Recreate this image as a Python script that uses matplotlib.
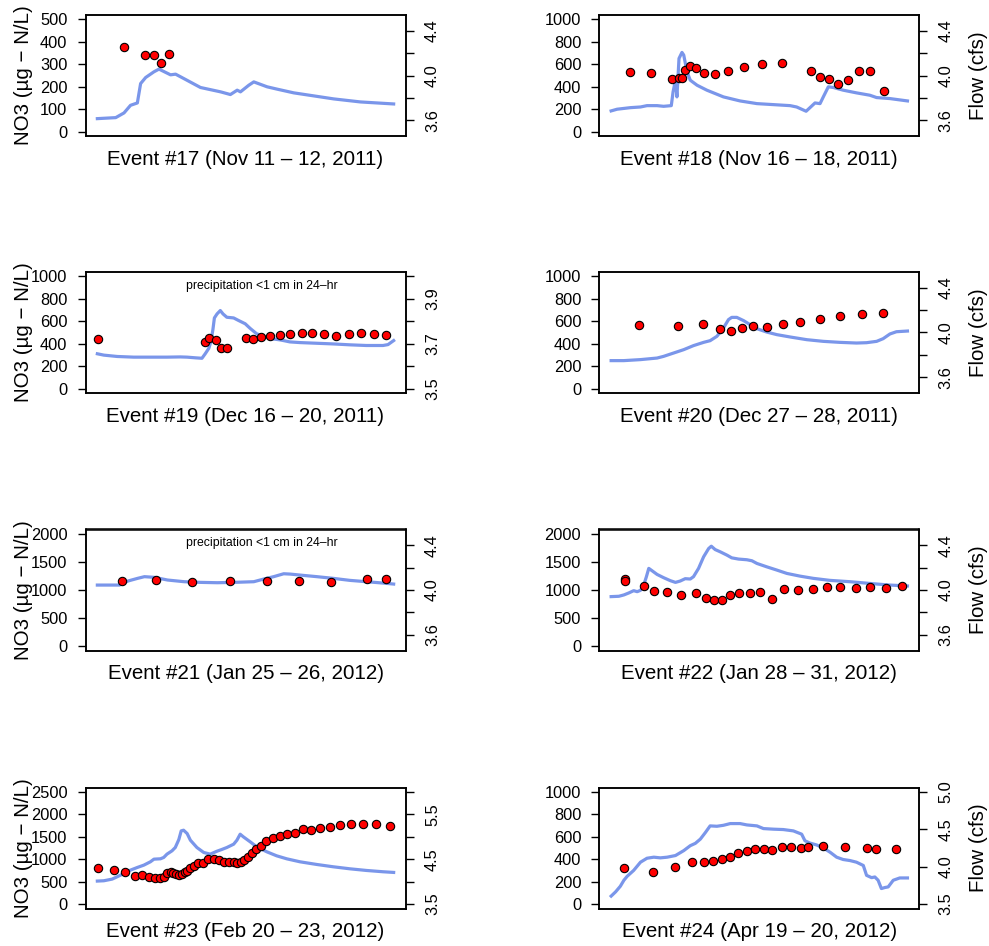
import matplotlib
matplotlib.use('Agg')
import matplotlib.pyplot as plt
import numpy as np

plt.rcParams['font.family'] = ['Liberation Sans', 'DejaVu Sans']

# time axis: percent of event duration (no ticks drawn in the original)
# flow is log10(cfs) on the right axis, NO3 in ug-N/L on the left axis

# Event 17
t17 = [0, 6.2, 9.0, 11.2, 13.5, 14.6, 16.3, 19.1, 20.8, 24.7, 26.4, 29.8, 34.8,
       41.6, 44.9, 47.2, 48.3, 51.1, 52.8, 57.3, 60.7, 66.3, 79.8, 88.8, 100]
flow17 = [3.615, 3.624, 3.666, 3.734, 3.755, 3.928, 3.982, 4.033, 4.057, 4.006, 4.012,
          3.964, 3.893, 3.854, 3.830, 3.869, 3.854, 3.913, 3.943, 3.899, 3.878, 3.845,
          3.791, 3.764, 3.746]
s17 = [9.0, 16.0, 19.0, 21.6, 24.3]
no3_17 = [377, 340, 340, 306, 348]

# Event 18
t18 = [0, 2.0, 6.5, 9.9, 12.1, 15.5, 17.7, 20.3, 20.9, 21.7, 22.2, 22.9, 23.9, 24.5,
       25.6, 26.7, 29.0, 32.3, 37.9, 43.5, 49.2, 54.8, 60.4, 62.6, 65.8, 67.1, 68.8,
       70.5, 71.6, 73.3, 75.0, 78.3, 82.8, 87.3, 89.6, 94.1, 100]
flow18 = [3.684, 3.699, 3.713, 3.719, 3.731, 3.731, 3.725, 3.731, 3.854, 3.958, 3.809,
          4.152, 4.206, 4.182, 4.033, 3.958, 3.913, 3.869, 3.809, 3.773, 3.749, 3.740,
          3.731, 3.719, 3.681, 3.713, 3.755, 3.749, 3.809, 3.899, 3.893, 3.869, 3.845,
          3.824, 3.803, 3.794, 3.773]
s18 = [6.2, 13.4, 20.5, 22.9, 24.0, 25.0, 26.5, 28.8, 31.5, 34.9, 39.4, 44.8, 50.8,
       57.8, 67.5, 70.4, 73.6, 76.7, 79.9, 83.5, 87.5, 92.1]
no3_18 = [534, 522, 469, 475, 481, 552, 588, 564, 522, 510, 540, 579, 605, 608, 543,
          484, 469, 421, 457, 540, 540, 365]

# Event 19
t19 = [0, 2.2, 6.7, 12.3, 17.9, 23.5, 28.0, 30.3, 33.1, 35.3, 36.4, 37.6, 38.3, 39.0,
       39.5, 40.4, 41.5, 42.4, 43.7, 46.0, 47.6, 49.9, 51.6, 53.8, 56.1, 58.3, 61.7,
       65.0, 68.4, 74.0, 79.6, 85.2, 90.8, 96.4, 98.1, 100]
flow19 = [3.655, 3.649, 3.643, 3.640, 3.640, 3.640, 3.641, 3.640, 3.637, 3.635, 3.655,
          3.679, 3.708, 3.763, 3.815, 3.833, 3.848, 3.833, 3.818, 3.815, 3.804, 3.789,
          3.768, 3.744, 3.734, 3.723, 3.717, 3.708, 3.705, 3.702, 3.699, 3.695, 3.692,
          3.692, 3.696, 3.714]
s19 = [0.2, 36.4, 37.7, 40.1, 41.8, 43.8, 50.1, 52.5, 55.2, 58.3, 61.5, 65.1, 68.9,
       72.6, 76.6, 80.7, 84.8, 88.9, 93.3, 97.5]
no3_19 = [446, 417, 455, 432, 360, 360, 449, 440, 458, 473, 482, 488, 494, 494, 485,
          467, 485, 494, 488, 482]

# Event 20
t20 = [0, 4.3, 9.9, 15.5, 17.7, 21.1, 24.5, 27.8, 31.2, 33.4, 35.7, 37.9, 39.6, 40.7,
       42.4, 44.7, 46.9, 49.2, 52.5, 55.9, 60.4, 66.0, 71.6, 77.2, 82.8, 86.2, 89.6,
       91.8, 94.1, 96.3, 100]
flow20 = [3.749, 3.749, 3.758, 3.772, 3.787, 3.817, 3.847, 3.883, 3.912, 3.927, 3.966,
          4.040, 4.115, 4.135, 4.135, 4.106, 4.070, 4.034, 4.004, 3.981, 3.960, 3.936,
          3.921, 3.912, 3.906, 3.909, 3.921, 3.945, 3.987, 4.007, 4.013]
s20 = [9.3, 22.6, 30.9, 36.8, 40.6, 44.1, 47.9, 52.5, 57.9, 63.9, 70.5, 77.3, 84.8, 91.9]
no3_20 = [569, 554, 575, 533, 515, 539, 554, 551, 575, 596, 620, 647, 668, 677]

# Event 21
t21 = [0, 4.7, 7.5, 10.3, 13.6, 15.9, 19.2, 23.7, 29.3, 34.9, 40.5, 46.1, 52.8, 56.2,
       59.5, 62.9, 65.1, 68.5, 74.1, 79.6, 85.2, 90.8, 96.4, 100]
flow21 = [4.044, 4.044, 4.044, 4.080, 4.104, 4.119, 4.113, 4.089, 4.074, 4.068, 4.065,
          4.068, 4.074, 4.098, 4.119, 4.145, 4.142, 4.133, 4.119, 4.104, 4.086, 4.074,
          4.062, 4.053]
s21 = [8.2, 19.8, 32.0, 44.7, 57.3, 67.9, 78.9, 90.9, 97.3]
no3_21 = [1169, 1187, 1151, 1163, 1157, 1157, 1151, 1205, 1205]

# Event 22
t22 = [0, 2.6, 4.3, 5.9, 7.6, 8.8, 9.9, 11.0, 11.9, 12.7, 13.8, 15.5, 17.7, 20.0,
       21.7, 23.3, 25.0, 26.7, 27.8, 29.5, 31.2, 32.9, 33.8, 35.1, 36.8, 39.1, 40.7,
       43.0, 45.8, 47.5, 49.2, 52.5, 55.9, 59.3, 63.7, 68.2, 73.8, 80.6, 88.4, 94.1, 100]
flow22 = [3.941, 3.944, 3.956, 3.973, 3.994, 3.985, 3.997, 4.044, 4.119, 4.193,
          4.172, 4.139, 4.110, 4.083, 4.068, 4.080, 4.101, 4.098, 4.119, 4.193,
          4.296, 4.370, 4.391, 4.361, 4.341, 4.311, 4.287, 4.276, 4.270, 4.261,
          4.237, 4.207, 4.178, 4.148, 4.124, 4.104, 4.086, 4.074, 4.056, 4.044, 4.036]
s22 = [4.7, 4.7, 11.0, 14.6, 18.9, 23.7, 28.7, 32.0, 34.6, 37.3, 40.2, 43.3, 46.7,
       50.3, 54.2, 58.4, 63.2, 68.0, 72.7, 77.4, 82.5, 87.5, 92.7, 98.2]
no3_22 = [1205, 1169, 1080, 985, 967, 914, 950, 855, 813, 825, 908, 944, 938, 961,
          843, 1021, 1003, 1021, 1050, 1062, 1033, 1062, 1039, 1080]

# Event 23
t23 = [0, 2.2, 5.0, 6.7, 9.0, 11.2, 13.5, 15.7, 17.9, 19.1, 21.3, 22.4, 23.5, 25.2,
       26.3, 27.5, 28.3, 29.1, 30.3, 31.4, 33.6, 35.9, 38.1, 40.4, 42.0, 43.7, 46.0,
       47.1, 48.2, 49.3, 51.6, 53.8, 57.2, 60.5, 63.9, 68.4, 74.0, 79.6, 85.2, 90.8,
       96.4, 100]
flow23 = [4.012, 4.019, 4.056, 4.108, 4.182, 4.257, 4.316, 4.368, 4.442, 4.501,
          4.509, 4.539, 4.613, 4.687, 4.761, 4.939, 5.132, 5.147, 5.073, 4.924,
          4.761, 4.650, 4.613, 4.679, 4.717, 4.761, 4.835, 4.924, 5.058, 4.998,
          4.887, 4.776, 4.665, 4.576, 4.509, 4.442, 4.383, 4.331, 4.286, 4.249,
          4.220, 4.205]
s23 = [0.2, 5.6, 9.4, 12.6, 15.1, 17.4, 19.3, 21.0, 22.4, 23.5,
       24.7, 25.6, 26.6, 27.7, 28.6, 29.5, 30.3, 31.4, 32.5, 33.9,
       35.5, 37.4, 39.2, 41.1, 42.8, 44.4, 46.0, 47.3, 48.4, 49.6,
       50.8, 52.1, 53.6, 55.2, 57.0, 59.4, 61.8, 64.0, 66.6, 69.4,
       72.2, 75.3, 78.6, 82.0, 85.7, 89.8, 94.2, 98.7]
no3_23 = [794, 757, 705, 631, 638, 593, 579, 571, 608, 682,
          705, 697, 668, 638, 660, 705, 734, 794, 846, 905,
          920, 994, 994, 979, 942, 935, 935, 920, 942, 979,
          1053, 1142, 1217, 1298, 1402, 1476, 1513, 1558, 1588, 1669,
          1654, 1691, 1721, 1773, 1780, 1780, 1780, 1743]

# Event 24
t24 = [0, 1.5, 3.1, 4.3, 5.4, 7.6, 9.9, 12.1, 14.4, 16.6,
       18.9, 21.7, 24.5, 26.7, 28.4, 30.1, 31.8, 33.4, 35.7, 37.9,
       40.2, 43.5, 45.8, 49.2, 51.4, 54.8, 58.1, 61.5, 64.3, 65.4,
       67.1, 69.4, 71.6, 73.9, 76.1, 78.3, 80.6, 82.8, 85.1, 86.2,
       87.9, 89.0, 90.1, 91.2, 92.4, 93.5, 95.2, 97.4, 100]
flow24 = [3.606, 3.663, 3.738, 3.818, 3.871, 3.950, 4.060, 4.113, 4.127, 4.118,
          4.127, 4.149, 4.215, 4.281, 4.312, 4.369, 4.457, 4.546, 4.541, 4.554,
          4.577, 4.577, 4.559, 4.546, 4.510, 4.502, 4.497, 4.479, 4.435, 4.347,
          4.316, 4.290, 4.250, 4.193, 4.127, 4.096, 4.082, 4.060, 4.016, 3.884,
          3.853, 3.862, 3.818, 3.707, 3.721, 3.729, 3.818, 3.849, 3.849]
s24 = [4.2, 14.0, 21.4, 27.2, 31.3, 34.5, 37.3, 40.1, 42.8, 45.7, 48.6, 51.5, 54.4,
       57.6, 60.7, 64.1, 66.6, 71.4, 78.8, 86.4, 89.3, 96.0]
no3_24 = [323, 282, 326, 374, 377, 386, 404, 424, 457, 475, 490, 490, 484, 507, 513,
          504, 507, 516, 510, 499, 493, 493]

titles = ['Event #17 (Nov 11 \u2013 12, 2011)', 'Event #18 (Nov 16 \u2013 18, 2011)',
          'Event #19 (Dec 16 \u2013 20, 2011)', 'Event #20 (Dec 27 \u2013 28, 2011)',
          'Event #21 (Jan 25 \u2013 26, 2012)', 'Event #22 (Jan 28 \u2013 31, 2012)',
          'Event #23 (Feb 20 \u2013 23, 2012)', 'Event #24 (Apr 19 \u2013 20, 2012)']
no3_max = [500, 1000, 1000, 1000, 2000, 2000, 2500, 1000]
no3_step = [100, 200, 200, 200, 500, 500, 500, 200]
flow_lim = [(3.5, 4.5), (3.5, 4.5), (3.5, 4.0), (3.5, 4.5),
            (3.5, 4.5), (3.5, 4.5), (3.5, 6.0), (3.5, 5.0)]
flow_ticks = [[3.6, 3.8, 4.0, 4.2, 4.4], [3.6, 3.8, 4.0, 4.2, 4.4],
              [3.5, 3.6, 3.7, 3.8, 3.9, 4.0], [3.6, 3.8, 4.0, 4.2, 4.4],
              [3.6, 3.8, 4.0, 4.2, 4.4], [3.6, 3.8, 4.0, 4.2, 4.4],
              [3.5, 4.0, 4.5, 5.0, 5.5, 6.0], [3.5, 4.0, 4.5, 5.0]]
flow_labels = [['3.6', '', '4.0', '', '4.4'], ['3.6', '', '4.0', '', '4.4'],
               ['3.5', '', '3.7', '', '3.9', ''], ['3.6', '', '4.0', '', '4.4'],
               ['3.6', '', '4.0', '', '4.4'], ['3.6', '', '4.0', '', '4.4'],
               ['3.5', '', '4.5', '', '5.5', ''], ['3.5', '4.0', '4.5', '5.0']]
precip_note = [False, False, True, False, True, False, False, False]

t_flow = [t17, t18, t19, t20, t21, t22, t23, t24]
flows = [flow17, flow18, flow19, flow20, flow21, flow22, flow23, flow24]
t_no3 = [s17, s18, s19, s20, s21, s22, s23, s24]
no3s = [no3_17, no3_18, no3_19, no3_20, no3_21, no3_22, no3_23, no3_24]

W, H = 989, 946
fig = plt.figure(figsize=(W / 100, H / 100), dpi=100)
col_x = [85.5, 599.3]
row_top = [15, 272, 529.5, 787.5]
pw, ph = 320, 121

for i in range(8):
    r, c = divmod(i, 2)
    ax = fig.add_axes([col_x[c] / W, 1 - (row_top[r] + ph) / H, pw / W, ph / H])
    ax2 = ax.twinx()

    # flow line on the right axis
    ax2.plot(t_flow[i], flows[i], color='#7A96EA', lw=2.3, solid_joinstyle='round')
    lo, hi = flow_lim[i]
    pad = 0.04 * (hi - lo)
    ax2.set_ylim(lo - pad, hi + pad)
    ax2.set_yticks(flow_ticks[i])
    ax2.set_yticklabels(flow_labels[i], rotation=90, va='center')
    ax2.tick_params(axis='y', length=6, width=1, labelsize=11.8, pad=8)

    # NO3 points on the left axis, drawn above the line
    ax.scatter(t_no3[i], no3s[i], s=36, c='#FF0000', edgecolors='black',
               linewidths=0.8, zorder=3)
    top = no3_max[i]
    ax.set_ylim(-0.04 * top, 1.04 * top)
    ax.set_yticks(np.arange(0, top + 1, no3_step[i]))
    ax.tick_params(axis='y', length=6, width=1, labelsize=11.8, pad=7)
    ax.set_xlim(-4, 104)
    ax.set_zorder(ax2.get_zorder() + 1)
    ax.patch.set_visible(False)

    for a in (ax, ax2):
        a.tick_params(axis='x', bottom=False, labelbottom=False)
        for sp in a.spines.values():
            sp.set_linewidth(1.1)

    ax.set_xlabel(titles[i], fontsize=14.8, labelpad=10)

    if c == 0:
        ax.set_ylabel('NO3 (\u00b5g \u2212 N/L)', fontsize=14.8)
        ax.yaxis.set_label_coords(-0.165, 0.5)
    else:
        ax2.set_ylabel('Flow (cfs)', fontsize=14.8)
        ax2.yaxis.set_label_coords(1.155, 0.5)

    if precip_note[i]:
        ax.text(0.55, 0.885, 'precipitation <1 cm in 24\u2013hr', transform=ax.transAxes,
                ha='center', va='center', fontsize=8.8)

fig.savefig('out.png', dpi=100)
